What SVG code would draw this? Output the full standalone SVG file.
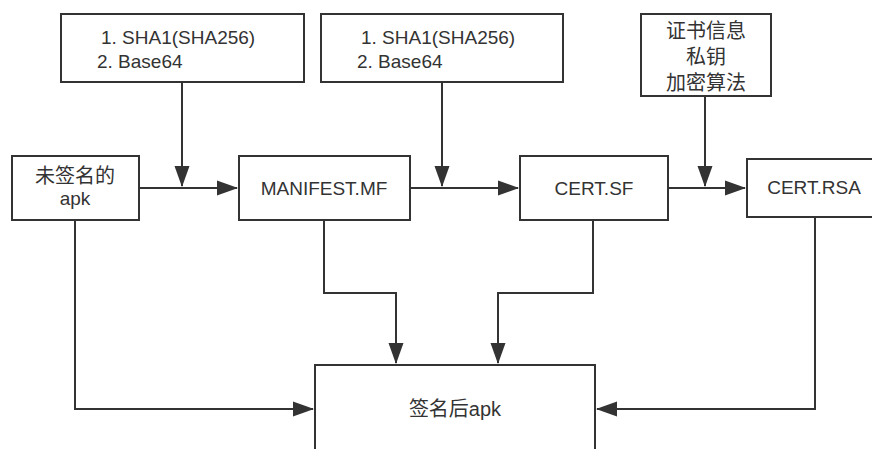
<svg xmlns="http://www.w3.org/2000/svg" width="872" height="449" viewBox="0 0 872 449">
<style>
.box{fill:#fff;stroke:#333;stroke-width:2}
.t{font-family:"Liberation Sans","Noto Sans CJK SC",sans-serif;font-size:19px;fill:#333}
.k{font-size:20px}
.c{text-anchor:middle}
.ln{fill:none;stroke:#333;stroke-width:2}
</style>
<defs>
<marker id="ah" markerUnits="userSpaceOnUse" markerWidth="22" markerHeight="16" viewBox="0 0 22 16" refX="20" refY="8" orient="auto">
<path d="M0,0.5 L21,8 L0,15.5 z" fill="#333"/>
</marker>
</defs>
<rect width="872" height="449" fill="#fff"/>
<g id="connectors">
<path class="ln" d="M182,82 V186" marker-end="url(#ah)"/>
<path class="ln" d="M139,188 H237" marker-end="url(#ah)"/>
<path class="ln" d="M442,82 V186" marker-end="url(#ah)"/>
<path class="ln" d="M410,188 H518" marker-end="url(#ah)"/>
<path class="ln" d="M705,96 V186" marker-end="url(#ah)"/>
<path class="ln" d="M668,188 H745" marker-end="url(#ah)"/>
<path class="ln" d="M75,220 V409 H313" marker-end="url(#ah)"/>
<path class="ln" d="M324,220 V293 H396 V363" marker-end="url(#ah)"/>
<path class="ln" d="M593,220 V293 H498 V363" marker-end="url(#ah)"/>
<path class="ln" d="M815,217 V409 H597" marker-end="url(#ah)"/>
</g>
<g id="hash1">
<rect class="box" x="61" y="14" width="243" height="68"/>
<text class="t"><tspan x="101" y="44">1. SHA1(SHA256)</tspan><tspan x="97" y="68">2. Base64</tspan></text>
</g>
<g id="hash2">
<rect class="box" x="321" y="14" width="242" height="68"/>
<text class="t"><tspan x="361" y="44">1. SHA1(SHA256)</tspan><tspan x="357" y="68">2. Base64</tspan></text>
</g>
<g id="certinfo">
<rect class="box" x="641" y="14" width="130" height="82"/>
<text class="t k c"><tspan x="706" y="38">证书信息</tspan><tspan x="706" y="64">私钥</tspan><tspan x="706" y="90">加密算法</tspan></text>
</g>
<g id="unsigned">
<rect class="box" x="12" y="156" width="127" height="64"/>
<text class="t c"><tspan class="k" x="75" y="183">未签名的</tspan><tspan x="75" y="205">apk</tspan></text>
</g>
<g id="manifest">
<rect class="box" x="239" y="156" width="171" height="64"/>
<text class="t c" x="324" y="195">MANIFEST.MF</text>
</g>
<g id="certsf">
<rect class="box" x="520" y="156" width="148" height="64"/>
<text class="t c" x="594" y="195">CERT.SF</text>
</g>
<g id="certrsa">
<rect class="box" x="747" y="159" width="134" height="58"/>
<text class="t c" x="814" y="194">CERT.RSA</text>
</g>
<g id="signed">
<rect class="box" x="315" y="365" width="280" height="100"/>
<text class="t k c" x="455" y="416">签名后apk</text>
</g>
</svg>
